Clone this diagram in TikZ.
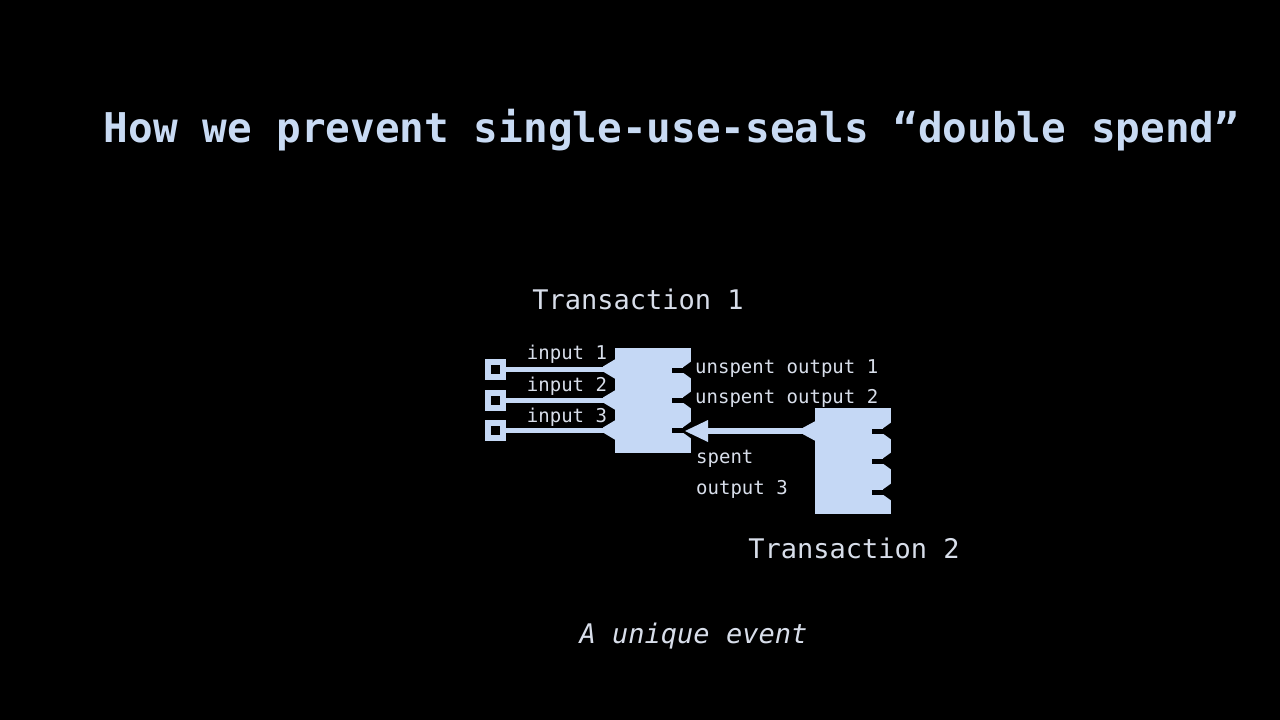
\documentclass[tikz,border=0pt]{standalone}
\usepackage{fontspec}
\usetikzlibrary{arrows.meta,calc}
\newfontfamily\monof{DejaVu Sans Mono}
\definecolor{boxc}{HTML}{C5D8F5}
\definecolor{titlec}{HTML}{C8DAF3}
\definecolor{textc}{HTML}{D8DEEA}
\tikzset{
  txbox/.style={rectangle, fill=boxc, inner sep=0pt, outer sep=0pt, anchor=north west},
  portsq/.style={rectangle, draw=boxc, line width=6pt, minimum size=15pt, inner sep=0pt},
  wire/.style={draw=boxc, line width=5pt},
  lbl/.style={text=textc, inner sep=0pt, font=\monof\fontsize{19}{19}\selectfont},
  biglbl/.style={text=textc, inner sep=0pt, font=\monof\fontsize{27}{27}\selectfont},
  notch/.style={draw=black, line width=5pt},
}
\begin{document}
\begin{tikzpicture}[x=1pt,y=-1pt]
\fill[black] (0,0) rectangle (1280,720);
\useasboundingbox (0,0) rectangle (1280,720);

% title
\node[anchor=base, inner sep=0pt, text=titlec, font=\monof\bfseries\fontsize{41}{41}\selectfont] (title) at (671.5,142) {How we prevent single-use-seals “double spend”};

% transaction boxes
\node[txbox, minimum width=76pt, minimum height=105pt] (tx1) at (615,348) {};
\node[txbox, minimum width=76pt, minimum height=106pt] (tx2) at (815,408) {};

% input squares
\node[portsq] (sq1) at (495,369) {};
\node[portsq] (sq2) at (495,400) {};
\node[portsq] (sq3) at (495,430) {};

% input wires
\draw[wire] (sq1.east) -- (sq1 -| tx1.west);
\draw[wire] (sq2.east) -- (sq2 -| tx1.west);
\draw[wire] (sq3.east) -- (sq3 -| tx1.west);
% flares into tx1
\foreach \y in {369,400,430}{
  \fill[boxc] (603,\y-2.5) -- (615.5,\y-10) -- (615.5,\y+10) -- (603,\y+2.5) -- cycle;
}

% output sockets of tx1
\foreach \y in {370,400,430}{
  \draw[notch] (672,\y) -- (691.5,\y);
  \fill[black] (683,\y-2.5) -- (692,\y-9) -- (692,\y+9) -- (683,\y+2.5) -- cycle;
}
% output sockets of tx2
\foreach \y in {431,461,492}{
  \draw[notch] (872,\y) -- (891.5,\y);
  \fill[black] (883,\y-2.5) -- (892,\y-9) -- (892,\y+9) -- (883,\y+2.5) -- cycle;
}

% spending arrow from tx2 to spent output 3 of tx1
\coordinate (tip) at (685,431);
\draw[draw=boxc, fill=boxc, line width=6.5pt, -{Triangle[length=23pt, width=22pt, line width=0pt]}] (tip -| tx2.west) -- (tip);
\fill[boxc] (803,427.75) -- (815.5,421) -- (815.5,441) -- (803,434.25) -- cycle;

% labels
\node[biglbl, anchor=base] (t1) at (638,309) {Transaction 1};
\node[biglbl, anchor=base] (t2) at (854,558) {Transaction 2};
\node[lbl, anchor=base] (in1) at (567,359) {input 1};
\node[lbl, anchor=base] (in2) at (567,391) {input 2};
\node[lbl, anchor=base] (in3) at (567,422) {input 3};
\node[lbl, anchor=base west] (out1) at (695,373) {unspent output 1};
\node[lbl, anchor=base west] (out2) at (695,403) {unspent output 2};
\node[lbl, anchor=base west] (sp1) at (696,463) {spent};
\node[lbl, anchor=base west] (sp2) at (696,494) {output 3};
\node[anchor=base, inner sep=0pt, text=textc, font=\monof\itshape\fontsize{27}{27}\selectfont] (cap) at (693.5,643) {A unique event};
\end{tikzpicture}
\end{document}
